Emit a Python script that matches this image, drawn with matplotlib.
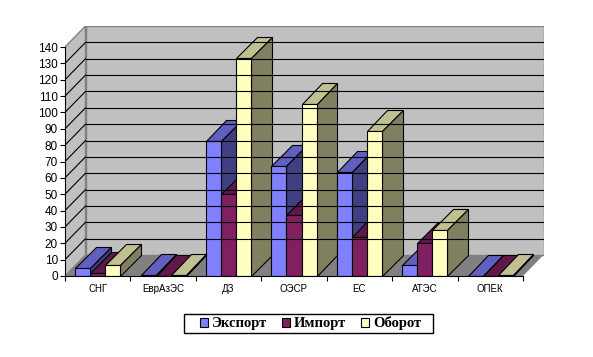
"""3D-style clustered columns: trade by group of countries."""

import numpy as np
import matplotlib
matplotlib.use("Agg")
import matplotlib.pyplot as plt
from matplotlib.patches import Patch, Polygon, Rectangle

CATEGORIES = ["СНГ", "ЕврАзЭС", "ДЗ", "ОЭСР", "ЕС", "АТЭС", "ОПЕК"]
EXPORT   = [5, 0.7, 82.5, 67, 63.5, 7, 0.3]
IMPORT   = [1.8, 0.1, 50, 37, 24, 20, 0.2]
TURNOVER = [7, 0.8, 133, 105, 88.5, 28, 0.8]
SERIES_NAMES = ["Экспорт", "Импорт", "Оборот"]
Y_TICKS = list(range(0, 141, 10))

# front, top, side
SERIES_COLORS = [("#8080FF", "#6060C0", "#404080"),
                 ("#802060", "#601848", "#601048"),
                 ("#FFFFC0", "#C0C090", "#808060")]

W, H    = 593, 357
X0, X1  = 65, 523    # front edge of the floor, px
Y0      = 276        # value 0, px from top
PX_UNIT = 229 / 140  # px per y unit
DX_PX, DY_PX = 20.5, 21
GAP     = 0.155      # category fraction left free on each side


def box(ax, x, w, val, dx, dy, colors):
    front, top, side = colors
    kw = dict(edgecolor="black", linewidth=0.8, joinstyle="miter", snap=True)
    ax.add_patch(Polygon([(x, val), (x + w, val), (x + w + dx, val + dy), (x + dx, val + dy)],
                         facecolor=top, **kw))
    ax.add_patch(Polygon([(x + w, 0), (x + w + dx, dy), (x + w + dx, val + dy), (x + w, val)],
                         facecolor=side, **kw))
    ax.add_patch(Polygon([(x, 0), (x + w, 0), (x + w, val), (x, val)],
                         facecolor=front, **kw))


def main():
    n = len(CATEGORIES)
    cat_px = (X1 - X0) / n
    dx = DX_PX / cat_px
    dy = DY_PX / PX_UNIT
    ymax = Y_TICKS[-1]

    fig = plt.figure(figsize=(W / 100, H / 100), dpi=100)
    ax = fig.add_axes([X0 / W, 1 - Y0 / H, (X1 + DX_PX - X0) / W, (ymax * PX_UNIT + DY_PX) / H])
    ax.set_xlim(0, n + dx)
    ax.set_ylim(0, ymax + dy)
    ax.patch.set_visible(False)

    # walls and floor
    wall = dict(facecolor="#C0C0C0", edgecolor="#808080", linewidth=1.0)
    ax.add_patch(Polygon([(dx, dy), (n + dx, dy), (n + dx, ymax + dy), (dx, ymax + dy)], **wall))
    ax.add_patch(Polygon([(0, 0), (dx, dy), (dx, ymax + dy), (0, ymax)], **wall))
    ax.add_patch(Polygon([(0, 0), (n, 0), (n + dx, dy), (dx, dy)], facecolor="#808080", edgecolor="none"))

    for t in Y_TICKS[1:-1]:
        ax.plot([dx, n + dx], [t + dy, t + dy], color="black", lw=0.8)
        ax.plot([0, dx], [t, t + dy], color="black", lw=0.8)

    # bars, painted from left to right
    values = [EXPORT, IMPORT, TURNOVER]
    w = (1 - 2 * GAP) / len(values)
    for i in range(n):
        for j, vals in enumerate(values):
            box(ax, i + GAP + j * w, w, vals[i], dx, dy, SERIES_COLORS[j])

    for s in ["top", "right"]:
        ax.spines[s].set_visible(False)
    ax.spines["left"].set_bounds(0, ymax)
    ax.spines["bottom"].set_bounds(0, n)
    ax.set_yticks(Y_TICKS)
    ax.set_xticks(np.arange(n + 1))
    ax.set_xticklabels([])
    ax.set_xticks(np.arange(n) + 0.5, CATEGORIES, minor=True)
    ax.tick_params(axis="x", which="minor", length=0, pad=6, labelsize=7, labelfontfamily="Liberation Sans")
    ax.tick_params(axis="x", which="major", length=3.5, width=0.8)
    ax.tick_params(axis="y", length=3.5, width=0.8, pad=1.5, labelsize=8.5, labelfontfamily="Liberation Sans")

    # legend frame is wider than its content, so it is drawn apart
    fig.add_artist(Rectangle((184 / W, 1 - 333 / H), 249 / W, 19 / H, transform=fig.transFigure,
                             facecolor="white", edgecolor="black", linewidth=1.0, snap=True))
    handles = [Patch(facecolor=c[0], edgecolor="black", linewidth=0.8) for c in SERIES_COLORS]
    fig.legend(handles, SERIES_NAMES, ncol=3, loc="center",
               bbox_to_anchor=(310.5 / W, 1 - 323.5 / H), frameon=False,
               handlelength=0.58, handleheight=0.6, handletextpad=0.25,
               columnspacing=1.0, borderpad=0, borderaxespad=0,
               prop={"family": "Liberation Serif", "weight": "bold", "size": 10.5})

    fig.savefig("out.png", dpi=100)


if __name__ == "__main__":
    main()
